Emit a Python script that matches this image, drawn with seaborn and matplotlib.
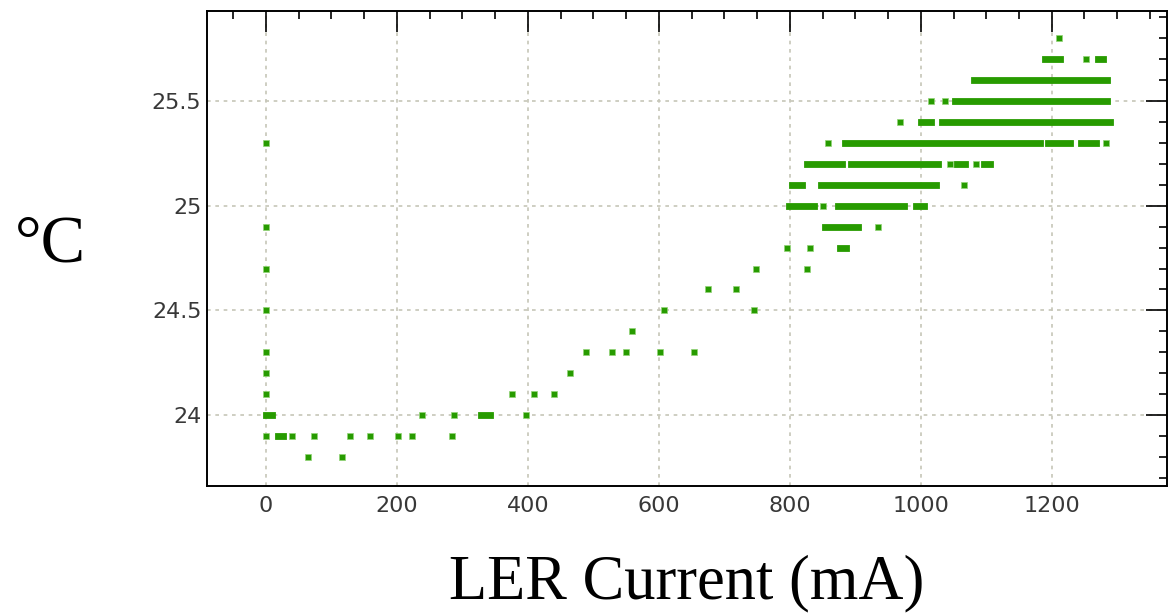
import matplotlib
matplotlib.use("Agg")
import matplotlib.pyplot as plt
from matplotlib.ticker import MultipleLocator, FixedLocator, FixedFormatter
import numpy as np
import pandas as pd
import seaborn as sns

# Isolated readings: temperature (°C) and LER current (mA)
single_temp = [
    25.8, 25.7, 25.5, 25.5, 25.4,
    25.3, 25.3, 25.3,
    25.2, 25.2, 25.1, 25.0,
    24.9, 24.9, 24.8, 24.8,
    24.7, 24.7, 24.7, 24.6, 24.6,
    24.5, 24.5, 24.5, 24.4,
    24.3, 24.3, 24.3, 24.3, 24.3, 24.3,
    24.2, 24.2, 24.1, 24.1, 24.1, 24.1,
    24.0, 24.0, 24.0,
    23.9, 23.9, 23.9, 23.9, 23.9, 23.9, 23.9, 23.9,
    23.8, 23.8,
]
single_current = [
    1211, 1253, 1015, 1037, 969,
    0, 859, 1283,
    1045, 1085, 1066, 850,
    0, 935, 795, 831,
    0, 748, 826, 675, 718,
    0, 608, 746, 559,
    0, 489, 528, 550, 602, 654,
    0, 464, 0, 376, 410, 440,
    238, 287, 397,
    0, 40, 73, 128, 159, 201, 223, 284,
    64, 116,
]

# Continuous stretches of readings at one temperature: start / end current (mA)
run_temp = [
    25.7, 25.7, 25.6, 25.5, 25.4, 25.4,
    25.3, 25.3, 25.3,
    25.2, 25.2, 25.2, 25.2,
    25.1, 25.1,
    25.0, 25.0, 25.0,
    24.9, 24.8,
    24.0, 24.0, 23.9,
]
run_start = [
    1189, 1271, 1081, 1053, 1000, 1032,
    885, 1195, 1244,
    826, 893, 1055, 1097,
    804, 847,
    798, 874, 992,
    853, 877,
    0, 328, 18,
]
run_end = [
    1213, 1279, 1285, 1285, 1015, 1289,
    1182, 1228, 1268,
    880, 1027, 1067, 1106,
    818, 1023,
    837, 974, 1005,
    904, 886,
    9, 342, 26,
]

x_ticks = [0, 200, 400, 600, 800, 1000, 1200]
y_ticks = [24.0, 24.5, 25.0, 25.5]
y_tick_labels = ["24", "24.5", "25", "25.5"]

GREEN = "#279b00"

sns.set_style("white")
plt.rcParams["font.family"] = ["DejaVu Sans"]

singles = pd.DataFrame({"current": single_current, "temp": single_temp})
runs = pd.DataFrame({
    "current": [v for a, b in zip(run_start, run_end) for v in (a, b)],
    "temp": [t for t in run_temp for _ in range(2)],
    "run": [i for i in range(len(run_temp)) for _ in range(2)],
})

fig = plt.figure(figsize=(11.71, 6.13), dpi=100)
ax = fig.add_axes([207 / 1171, 1 - 486 / 613, (1167 - 207) / 1171, (486 - 11) / 613])

sns.lineplot(data=runs, x="current", y="temp", units="run", estimator=None,
             sort=False, color=GREEN, linewidth=4.9,
             solid_capstyle="projecting", legend=False, ax=ax, zorder=3)
sns.scatterplot(data=singles, x="current", y="temp", marker="s", s=25,
                color=GREEN, edgecolor="#93d477", linewidth=0.5,
                legend=False, ax=ax, zorder=4)

ax.set_xlim(-90, 1376)
ax.set_ylim(23.663, 25.928)

ax.xaxis.set_major_locator(FixedLocator(x_ticks))
ax.xaxis.set_minor_locator(MultipleLocator(50))
ax.yaxis.set_major_locator(FixedLocator(y_ticks))
ax.yaxis.set_major_formatter(FixedFormatter(y_tick_labels))
ax.yaxis.set_minor_locator(MultipleLocator(0.1))

ax.tick_params(which="both", direction="in", top=True, right=True,
               color="black", labelcolor="#383838", labelsize=16)
ax.tick_params(which="major", length=15, width=1.2)
ax.tick_params(which="minor", length=5.5, width=1.2)
ax.tick_params(axis="x", which="major", pad=7)
ax.tick_params(axis="y", which="major", pad=4)

ax.grid(which="major", color="#c6c6b8", linestyle=(0, (2.2, 2.8)), linewidth=1.2)
ax.set_axisbelow(True)
for sp in ax.spines.values():
    sp.set_color("black")
    sp.set_linewidth(1.4)

ax.set_xlabel("")
ax.set_ylabel("")

fig.text(50 / 1171, 1 - 245 / 613, "°C", family=["Liberation Serif", "DejaVu Serif"],
         fontsize=48, color="black", ha="center", va="center")
fig.text(687 / 1171, 1 - 598 / 613, "LER Current (mA)",
         family=["Liberation Serif", "DejaVu Serif"],
         fontsize=45, color="black", ha="center", va="baseline")

fig.savefig("out.png", dpi=100)
